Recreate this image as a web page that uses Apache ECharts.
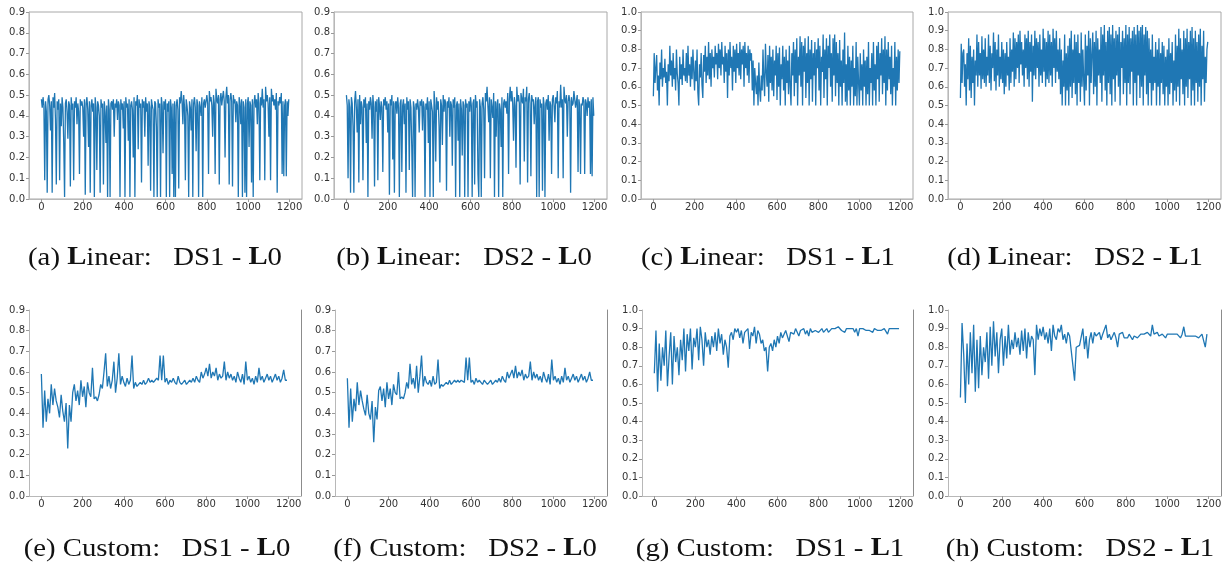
<!DOCTYPE html>
<html>
<head>
<meta charset="utf-8">
<script src="https://cdn.jsdelivr.net/npm/echarts@6/dist/echarts.min.js"></script>
<style>
  html, body { margin: 0; padding: 0; background: #fff; }
  #chart { width: 1231px; height: 571px; }
</style>
</head>
<body>
<div id="chart"></div>
<script>
// ---- Tick labels --------------------------------------------------------
const xTickValues = [0, 200, 400, 600, 800, 1000, 1200];

// ---- Caption parts (letter, method, dataset, level) -----------------------
const captionLetters  = ['a', 'b', 'c', 'd', 'e', 'f', 'g', 'h'];
const captionMethods  = ['Linear', 'Linear', 'Linear', 'Linear', 'Custom', 'Custom', 'Custom', 'Custom'];
const captionDatasets = ['DS1', 'DS2', 'DS1', 'DS2', 'DS1', 'DS2', 'DS1', 'DS2'];
const captionLevels   = ['L0', 'L0', 'L1', 'L1', 'L0', 'L0', 'L1', 'L1'];

// ---- Series values, top row (one sample every 4 steps) --------------------
const linearDs1L0 = [
  0.48,0.44,0.49,0.45,0.09,0.47,0.42,0.03,0.48,0.50,
  0.45,0.33,0.47,0.03,0.49,0.44,0.51,0.38,0.07,0.47,
  0.43,0.48,0.09,0.46,0.35,0.49,0.44,0.27,0.01,0.46,
  0.48,0.42,0.29,0.47,0.45,0.06,0.49,0.43,0.46,0.09,
  0.47,0.44,0.49,0.36,0.46,0.42,0.12,0.48,0.45,0.47,
  0.44,0.30,0.48,0.02,0.46,0.49,0.43,0.25,0.47,0.03,
  0.45,0.48,0.42,0.46,0.01,0.49,0.44,0.14,0.47,0.45,
  0.40,0.03,0.48,0.44,0.46,0.07,0.47,0.42,0.27,0.45,
  0.01,0.48,0.43,0.01,0.46,0.47,0.43,0.48,0.30,0.46,
  0.44,0.48,0.38,0.47,0.45,0.01,0.48,0.43,0.46,0.34,
  0.47,0.01,0.49,0.44,0.46,0.28,0.48,0.01,0.45,0.47,
  0.43,0.20,0.49,0.01,0.47,0.45,0.50,0.24,0.48,0.44,
  0.46,0.08,0.48,0.44,0.47,0.30,0.49,0.42,0.46,0.16,
  0.47,0.44,0.04,0.48,0.45,0.43,0.01,0.47,0.46,0.35,
  0.01,0.48,0.44,0.46,0.01,0.49,0.45,0.22,0.47,0.43,
  0.48,0.01,0.46,0.42,0.47,0.01,0.48,0.44,0.12,0.46,
  0.01,0.47,0.01,0.45,0.48,0.43,0.05,0.49,0.46,0.52,
  0.47,0.36,0.50,0.44,0.09,0.48,0.45,0.40,0.01,0.47,
  0.44,0.33,0.48,0.01,0.46,0.49,0.44,0.23,0.48,0.45,
  0.01,0.47,0.44,0.40,0.49,0.01,0.46,0.48,0.44,0.47,
  0.50,0.46,0.12,0.52,0.47,0.49,0.45,0.30,0.50,0.46,
  0.12,0.53,0.48,0.46,0.50,0.07,0.48,0.51,0.45,0.49,
  0.52,0.47,0.20,0.49,0.54,0.46,0.50,0.07,0.48,0.51,
  0.47,0.06,0.50,0.46,0.48,0.37,0.47,0.45,0.01,0.49,
  0.46,0.36,0.48,0.01,0.47,0.44,0.03,0.48,0.01,0.46,
  0.49,0.25,0.47,0.45,0.08,0.48,0.01,0.46,0.50,0.44,
  0.48,0.36,0.51,0.46,0.09,0.49,0.45,0.53,0.44,0.48,
  0.09,0.54,0.47,0.50,0.46,0.30,0.49,0.09,0.53,0.47,
  0.50,0.45,0.48,0.43,0.51,0.03,0.47,0.45,0.49,0.46,
  0.51,0.12,0.47,0.11,0.45,0.48,0.11,0.47,0.40,0.48
];
const linearDs2L0 = [
  0.50,0.45,0.10,0.48,0.44,0.03,0.49,0.46,0.35,0.03,
  0.47,0.52,0.44,0.32,0.48,0.08,0.50,0.36,0.47,0.44,
  0.09,0.48,0.44,0.49,0.27,0.46,0.01,0.47,0.43,0.49,
  0.46,0.29,0.50,0.44,0.06,0.47,0.42,0.48,0.09,0.49,
  0.45,0.38,0.47,0.44,0.13,0.48,0.45,0.49,0.43,0.47,
  0.32,0.46,0.02,0.48,0.45,0.50,0.19,0.47,0.03,0.46,
  0.47,0.41,0.49,0.44,0.01,0.46,0.48,0.13,0.45,0.48,
  0.36,0.46,0.03,0.49,0.43,0.47,0.14,0.48,0.44,0.25,
  0.01,0.47,0.44,0.01,0.46,0.43,0.48,0.44,0.32,0.47,
  0.45,0.48,0.33,0.47,0.44,0.01,0.46,0.43,0.49,0.27,
  0.47,0.01,0.48,0.45,0.42,0.01,0.52,0.45,0.18,0.49,
  0.43,0.47,0.35,0.08,0.48,0.45,0.26,0.50,0.42,0.48,
  0.46,0.04,0.47,0.44,0.49,0.30,0.47,0.45,0.16,0.48,
  0.44,0.49,0.01,0.45,0.47,0.28,0.46,0.01,0.48,0.43,
  0.21,0.47,0.45,0.01,0.48,0.44,0.46,0.01,0.47,0.42,
  0.49,0.45,0.01,0.46,0.48,0.07,0.50,0.44,0.47,0.12,
  0.01,0.48,0.44,0.01,0.46,0.49,0.43,0.10,0.51,0.47,
  0.54,0.45,0.37,0.49,0.10,0.48,0.44,0.39,0.51,0.01,
  0.47,0.30,0.46,0.48,0.01,0.46,0.43,0.25,0.49,0.01,
  0.46,0.48,0.44,0.47,0.41,0.51,0.12,0.48,0.54,0.47,
  0.52,0.46,0.28,0.49,0.45,0.15,0.54,0.47,0.50,0.46,
  0.07,0.51,0.48,0.46,0.53,0.18,0.49,0.47,0.54,0.08,
  0.48,0.51,0.46,0.11,0.50,0.47,0.48,0.36,0.45,0.49,
  0.01,0.47,0.49,0.01,0.48,0.44,0.46,0.04,0.49,0.45,
  0.01,0.46,0.48,0.43,0.50,0.28,0.47,0.45,0.12,0.48,
  0.50,0.45,0.37,0.49,0.46,0.52,0.10,0.47,0.44,0.55,
  0.44,0.48,0.10,0.54,0.48,0.46,0.50,0.30,0.47,0.50,
  0.47,0.03,0.49,0.45,0.46,0.52,0.48,0.44,0.47,0.50,
  0.13,0.48,0.45,0.12,0.46,0.45,0.49,0.47,0.12,0.48,
  0.46,0.40,0.49,0.44,0.47,0.12,0.48,0.11,0.49,0.40
];
const linearDs1L1 = [
  0.55,0.78,0.62,0.70,0.77,0.58,0.66,0.50,0.73,0.64,
  0.80,0.60,0.70,0.65,0.75,0.62,0.68,0.50,0.72,0.63,
  0.82,0.66,0.74,0.60,0.78,0.64,0.70,0.58,0.80,0.67,
  0.62,0.50,0.76,0.64,0.72,0.61,0.80,0.66,0.70,0.63,
  0.78,0.62,0.82,0.66,0.72,0.60,0.76,0.64,0.80,0.68,
  0.58,0.74,0.63,0.80,0.57,0.50,0.72,0.65,0.78,0.61,
  0.54,0.77,0.68,0.82,0.62,0.76,0.66,0.84,0.64,0.78,
  0.60,0.80,0.70,0.76,0.65,0.82,0.72,0.78,0.64,0.83,
  0.70,0.80,0.66,0.84,0.72,0.76,0.62,0.82,0.68,0.78,
  0.54,0.80,0.66,0.84,0.70,0.76,0.58,0.82,0.68,0.80,
  0.62,0.83,0.70,0.78,0.66,0.84,0.64,0.80,0.72,0.82,
  0.60,0.84,0.70,0.78,0.66,0.82,0.62,0.80,0.74,0.78,
  0.58,0.74,0.50,0.70,0.62,0.56,0.66,0.50,0.73,0.58,
  0.52,0.66,0.58,0.80,0.64,0.55,0.83,0.68,0.60,0.77,
  0.52,0.82,0.62,0.76,0.58,0.80,0.55,0.74,0.66,0.82,
  0.53,0.78,0.60,0.81,0.50,0.72,0.64,0.82,0.58,0.76,
  0.50,0.80,0.62,0.74,0.56,0.82,0.60,0.50,0.78,0.66,
  0.84,0.55,0.80,0.62,0.86,0.50,0.76,0.66,0.87,0.60,
  0.84,0.50,0.82,0.68,0.86,0.54,0.78,0.62,0.87,0.50,
  0.80,0.64,0.85,0.52,0.78,0.66,0.84,0.50,0.80,0.70,
  0.86,0.58,0.82,0.50,0.76,0.68,0.88,0.54,0.80,0.64,
  0.86,0.50,0.82,0.70,0.88,0.60,0.78,0.52,0.86,0.66,
  0.88,0.55,0.84,0.62,0.78,0.50,0.85,0.60,0.74,0.50,
  0.80,0.62,0.89,0.52,0.72,0.50,0.82,0.58,0.76,0.50,
  0.74,0.60,0.82,0.50,0.70,0.55,0.84,0.50,0.76,0.62,
  0.50,0.78,0.58,0.72,0.50,0.80,0.60,0.74,0.50,0.76,
  0.56,0.84,0.50,0.70,0.62,0.78,0.50,0.84,0.58,0.72,
  0.50,0.82,0.64,0.84,0.52,0.78,0.66,0.86,0.56,0.80,
  0.62,0.87,0.50,0.80,0.58,0.84,0.64,0.76,0.56,0.82,
  0.50,0.70,0.60,0.84,0.50,0.76,0.58,0.80,0.62,0.79
];
const linearDs2L1 = [
  0.54,0.83,0.62,0.78,0.80,0.60,0.72,0.50,0.78,0.64,
  0.86,0.58,0.82,0.54,0.76,0.62,0.80,0.50,0.74,0.66,
  0.88,0.60,0.84,0.66,0.78,0.59,0.87,0.64,0.80,0.62,
  0.86,0.60,0.76,0.66,0.88,0.62,0.82,0.58,0.78,0.70,
  0.89,0.63,0.84,0.58,0.80,0.66,0.88,0.60,0.76,0.64,
  0.84,0.62,0.80,0.56,0.78,0.60,0.84,0.66,0.76,0.58,
  0.86,0.62,0.80,0.68,0.89,0.60,0.86,0.64,0.84,0.70,
  0.88,0.62,0.90,0.72,0.84,0.66,0.80,0.60,0.88,0.70,
  0.86,0.64,0.90,0.60,0.84,0.68,0.88,0.52,0.82,0.66,
  0.90,0.64,0.86,0.70,0.84,0.60,0.88,0.66,0.80,0.62,
  0.91,0.68,0.86,0.60,0.84,0.64,0.90,0.62,0.88,0.66,
  0.84,0.60,0.91,0.70,0.86,0.62,0.90,0.68,0.80,0.64,
  0.86,0.56,0.80,0.50,0.74,0.60,0.88,0.50,0.78,0.58,
  0.82,0.50,0.86,0.60,0.90,0.54,0.80,0.62,0.88,0.56,
  0.84,0.50,0.88,0.62,0.78,0.52,0.89,0.60,0.80,0.64,
  0.50,0.88,0.58,0.82,0.66,0.90,0.50,0.86,0.62,0.78,
  0.89,0.56,0.84,0.60,0.90,0.50,0.86,0.66,0.80,0.62,
  0.92,0.52,0.88,0.66,0.93,0.58,0.84,0.50,0.90,0.62,
  0.92,0.56,0.88,0.50,0.93,0.64,0.86,0.52,0.90,0.66,
  0.88,0.60,0.92,0.50,0.84,0.70,0.90,0.56,0.86,0.62,
  0.93,0.50,0.88,0.62,0.92,0.56,0.86,0.68,0.90,0.50,
  0.92,0.62,0.88,0.50,0.93,0.66,0.90,0.54,0.92,0.60,
  0.93,0.50,0.88,0.66,0.92,0.56,0.90,0.50,0.86,0.62,
  0.80,0.50,0.88,0.58,0.76,0.62,0.84,0.50,0.80,0.60,
  0.86,0.50,0.78,0.62,0.84,0.56,0.82,0.50,0.76,0.60,
  0.80,0.50,0.86,0.56,0.78,0.62,0.84,0.50,0.74,0.58,
  0.88,0.52,0.82,0.60,0.91,0.50,0.86,0.64,0.80,0.56,
  0.90,0.50,0.86,0.60,0.91,0.54,0.84,0.64,0.90,0.50,
  0.92,0.58,0.86,0.50,0.90,0.62,0.84,0.52,0.88,0.60,
  0.91,0.50,0.82,0.64,0.90,0.52,0.76,0.62,0.80,0.84
];

// ---- Series values, bottom row (one sample every 8 steps) -----------------
const customDs1L0 = [
  0.59,0.33,0.51,0.36,0.47,0.40,0.54,0.44,0.52,0.46,
  0.43,0.38,0.49,0.41,0.36,0.45,0.23,0.44,0.36,0.50,
  0.54,0.46,0.51,0.44,0.56,0.48,0.53,0.43,0.55,0.50,
  0.48,0.62,0.47,0.48,0.46,0.49,0.54,0.52,0.60,0.69,
  0.53,0.58,0.52,0.56,0.65,0.50,0.57,0.69,0.54,0.58,
  0.55,0.53,0.57,0.54,0.56,0.68,0.52,0.55,0.53,0.54,
  0.55,0.54,0.56,0.54,0.55,0.57,0.55,0.56,0.55,0.56,
  0.57,0.56,0.68,0.56,0.68,0.55,0.57,0.54,0.56,0.55,
  0.57,0.55,0.54,0.58,0.55,0.54,0.55,0.56,0.54,0.55,
  0.56,0.55,0.57,0.55,0.58,0.56,0.55,0.60,0.57,0.59,
  0.62,0.58,0.64,0.57,0.60,0.58,0.62,0.56,0.59,0.57,
  0.58,0.65,0.56,0.60,0.57,0.59,0.56,0.58,0.55,0.60,
  0.57,0.55,0.59,0.54,0.65,0.56,0.58,0.55,0.57,0.54,
  0.58,0.55,0.62,0.56,0.58,0.55,0.57,0.59,0.56,0.58,
  0.55,0.57,0.59,0.56,0.58,0.55,0.57,0.61,0.56,0.56
];
const customDs2L0 = [
  0.57,0.33,0.52,0.36,0.47,0.41,0.55,0.44,0.51,0.46,
  0.42,0.39,0.49,0.40,0.37,0.46,0.26,0.43,0.37,0.51,
  0.53,0.46,0.52,0.43,0.55,0.47,0.52,0.44,0.54,0.50,
  0.49,0.60,0.47,0.48,0.47,0.50,0.55,0.52,0.64,0.54,
  0.57,0.52,0.63,0.50,0.58,0.68,0.53,0.58,0.55,0.54,
  0.56,0.53,0.58,0.54,0.55,0.66,0.52,0.54,0.53,0.54,
  0.55,0.54,0.56,0.54,0.55,0.56,0.55,0.56,0.55,0.56,
  0.56,0.55,0.67,0.56,0.67,0.55,0.56,0.54,0.57,0.55,
  0.56,0.55,0.54,0.56,0.55,0.54,0.55,0.56,0.54,0.55,
  0.56,0.55,0.57,0.55,0.58,0.56,0.55,0.60,0.57,0.59,
  0.61,0.57,0.63,0.57,0.60,0.58,0.61,0.56,0.59,0.57,
  0.58,0.65,0.56,0.60,0.57,0.59,0.56,0.58,0.55,0.60,
  0.57,0.55,0.59,0.54,0.66,0.56,0.58,0.55,0.57,0.54,
  0.58,0.55,0.62,0.56,0.58,0.55,0.57,0.59,0.56,0.58,
  0.55,0.57,0.59,0.56,0.58,0.55,0.57,0.60,0.56,0.56
];
const customDs1L1 = [
  0.66,0.89,0.56,0.82,0.62,0.80,0.70,0.89,0.59,0.75,
  0.88,0.60,0.86,0.72,0.80,0.65,0.84,0.73,0.90,0.67,
  0.87,0.78,0.90,0.68,0.85,0.80,0.90,0.73,0.91,0.84,
  0.70,0.88,0.80,0.84,0.76,0.86,0.80,0.88,0.78,0.90,
  0.82,0.87,0.76,0.84,0.80,0.69,0.86,0.88,0.84,0.90,
  0.88,0.90,0.85,0.89,0.82,0.88,0.87,0.90,0.79,0.88,
  0.86,0.91,0.82,0.89,0.87,0.82,0.84,0.78,0.80,0.67,
  0.80,0.82,0.78,0.84,0.80,0.86,0.82,0.88,0.85,0.86,
  0.89,0.90,0.83,0.88,0.89,0.87,0.90,0.88,0.86,0.89,
  0.88,0.90,0.87,0.89,0.86,0.90,0.88,0.87,0.89,0.90,
  0.88,0.89,0.90,0.88,0.89,0.90,0.88,0.89,0.90,0.89,
  0.90,0.89,0.91,0.90,0.89,0.90,0.88,0.90,0.89,0.90,
  0.89,0.90,0.88,0.90,0.86,0.90,0.89,0.90,0.90,0.89,
  0.90,0.89,0.90,0.88,0.90,0.90,0.89,0.90,0.89,0.88,
  0.90,0.89,0.87,0.90,0.89,0.90,0.89,0.90,0.89,0.90
];
const customDs2L1 = [
  0.53,0.93,0.76,0.50,0.82,0.60,0.88,0.66,0.92,0.56,
  0.84,0.58,0.86,0.65,0.80,0.72,0.88,0.63,0.91,0.70,
  0.94,0.75,0.88,0.66,0.84,0.90,0.70,0.86,0.74,0.92,
  0.76,0.84,0.79,0.88,0.80,0.85,0.76,0.89,0.78,0.90,
  0.74,0.88,0.80,0.86,0.84,0.65,0.92,0.84,0.90,0.86,
  0.91,0.84,0.88,0.82,0.90,0.78,0.92,0.86,0.84,0.90,
  0.88,0.92,0.84,0.87,0.82,0.88,0.86,0.78,0.70,0.62,
  0.80,0.80,0.81,0.80,0.90,0.79,0.86,0.74,0.84,0.88,
  0.82,0.88,0.86,0.85,0.88,0.84,0.87,0.86,0.92,0.85,
  0.87,0.84,0.86,0.88,0.85,0.80,0.87,0.86,0.88,0.85,
  0.86,0.85,0.87,0.86,0.84,0.86,0.87,0.85,0.86,0.87,
  0.86,0.87,0.86,0.88,0.87,0.86,0.92,0.87,0.86,0.88,
  0.86,0.85,0.87,0.86,0.85,0.87,0.86,0.87,0.86,0.87,
  0.86,0.87,0.86,0.85,0.87,0.91,0.86,0.87,0.86,0.85,
  0.86,0.87,0.86,0.87,0.85,0.86,0.87,0.86,0.80,0.87
];

// ---- Panel layout ---------------------------------------------------------
const panels = [
  { values: linearDs1L0, step: 4, yMax: 0.9, left: 29,  top: 12,  width: 273, height: 187, boxed: true,  cx: 155,  cy: 258 },
  { values: linearDs2L0, step: 4, yMax: 0.9, left: 334, top: 12,  width: 273, height: 187, boxed: true,  cx: 464,  cy: 258 },
  { values: linearDs1L1, step: 4, yMax: 1.0, left: 641, top: 12,  width: 272, height: 187, boxed: true,  cx: 768,  cy: 258 },
  { values: linearDs2L1, step: 4, yMax: 1.0, left: 948, top: 12,  width: 273, height: 187, boxed: true,  cx: 1075, cy: 258 },
  { values: customDs1L0, step: 8, yMax: 0.9, left: 29,  top: 310, width: 272, height: 186, boxed: false, cx: 157,  cy: 549 },
  { values: customDs2L0, step: 8, yMax: 0.9, left: 335, top: 310, width: 272, height: 186, boxed: false, cx: 465,  cy: 549 },
  { values: customDs1L1, step: 8, yMax: 1.0, left: 642, top: 310, width: 271, height: 186, boxed: false, cx: 770,  cy: 549 },
  { values: customDs2L1, step: 8, yMax: 1.0, left: 948, top: 310, width: 273, height: 186, boxed: false, cx: 1080, cy: 549 }
];

const LINE_COLOR = '#1f77b4';
const TICK_FONT = 'DejaVu Sans';
const CAPTION_FONT = 'Liberation Serif';
const CAPTION_SIZE = 25;

const grid = [], xAxis = [], yAxis = [], series = [], graphic = [];

panels.forEach((p, i) => {
  grid.push({
    left: p.left, top: p.top, width: p.width, height: p.height,
    show: p.boxed, borderColor: '#a8a8a8', borderWidth: 1, backgroundColor: 'transparent'
  });
  xAxis.push({
    type: 'value', gridIndex: i, min: -60, max: 1260,
    splitLine: { show: false },
    axisLine: { show: true, onZero: false, lineStyle: { color: '#b8b8b8', width: 1 } },
    axisTick: { show: true, inside: false, length: 3, customValues: xTickValues, lineStyle: { color: '#999' } },
    axisLabel: { customValues: xTickValues, fontFamily: TICK_FONT, fontSize: 10, color: '#333', margin: 3,
                 formatter: v => String(v) }
  });
  const yIdx = yAxis.length;
  yAxis.push({
    type: 'value', gridIndex: i, min: 0, max: p.yMax, interval: 0.1,
    splitLine: { show: false },
    axisLine: { show: true, onZero: false, lineStyle: { color: '#b8b8b8', width: 1 } },
    axisTick: { show: true, inside: false, length: 3, lineStyle: { color: '#999' } },
    axisLabel: { fontFamily: TICK_FONT, fontSize: 10, color: '#333', margin: 4,
                 formatter: v => v.toFixed(1) }
  });
  if (!p.boxed) {
    // right-hand spine only
    yAxis.push({
      type: 'value', gridIndex: i, position: 'right', min: 0, max: p.yMax,
      splitLine: { show: false }, axisTick: { show: false }, axisLabel: { show: false },
      axisLine: { show: true, onZero: false, lineStyle: { color: '#8c8c8c', width: 1 } }
    });
  }
  series.push({
    type: 'line', xAxisIndex: i, yAxisIndex: yIdx,
    data: p.values.map((v, k) => [k * p.step, v]),
    showSymbol: false, symbol: 'none', animation: false,
    lineStyle: { color: LINE_COLOR, width: 1.3 }
  });
  const lvl = captionLevels[i];
  const method = captionMethods[i];
  const methodText = method === 'Linear' ? '{b|L}' + method.slice(1) : method;
  // caption, stretched slightly wider to echo the wide serif face of the figure
  graphic.push({
    type: 'text', x: p.cx, y: p.cy, scaleX: 1.15, scaleY: 1,
    style: {
      text: '(' + captionLetters[i] + ') ' + methodText + ':   ' + captionDatasets[i] +
            ' - {b|' + lvl[0] + '}' + lvl.slice(1),
      fontFamily: CAPTION_FONT, fontSize: CAPTION_SIZE, fill: '#111',
      align: 'center', verticalAlign: 'middle',
      rich: { b: { fontFamily: CAPTION_FONT, fontSize: CAPTION_SIZE, fontWeight: 'bold', fill: '#111' } }
    }
  });
});

const chart = echarts.init(document.getElementById('chart'), null, { renderer: 'canvas' });
chart.setOption({ animation: false, grid, xAxis, yAxis, series, graphic });
</script>
</body>
</html>
